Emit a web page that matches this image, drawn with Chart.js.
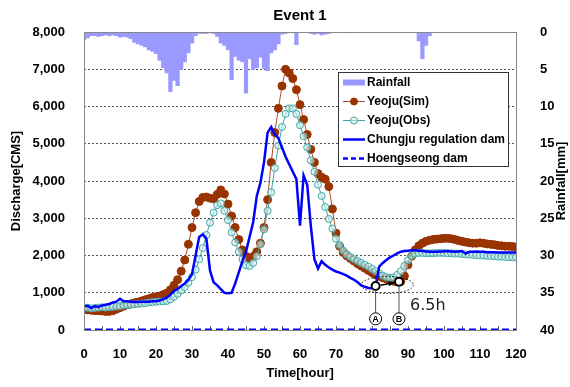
<!DOCTYPE html>
<html>
<head>
<meta charset="utf-8">
<script src="https://cdn.jsdelivr.net/npm/chart.js@4.4.1/dist/chart.umd.min.js"></script>
<style>
  html, body { margin: 0; padding: 0; background: #fff; }
  #chart { display: block; }
</style>
</head>
<body>
<canvas id="chart" width="570" height="387"></canvas>
<script>
// Event 1 - discharge at Yeoju and dam releases, with hourly rainfall

const hours = Array.from({ length: 121 }, (_, i) => i);

// rainfall [mm], hourly
const rainfall = [
  1.0, 0.8, 0.5, 0.5, 0.6, 0.5, 0.4, 0.5, 0.4, 0.5,
  0.7, 0.6, 0.7, 0.9, 1.4, 1.6, 1.8, 2.0, 2.4, 2.6,
  2.9, 3.8, 4.8, 5.5, 8.0, 6.5, 7.2, 5.0, 4.0, 2.8,
  1.5, 0.5, 0.2, 0.2, 0.2, 0.1, 0.2, 0.6, 1.5, 1.8,
  2.4, 6.4, 3.3, 3.8, 4.0, 8.2, 3.6, 5.0, 4.8, 3.4,
  4.9, 5.2, 2.8, 2.4, 1.6, 0.3, 0.2, 0.1, 0.1, 1.7,
  0, 0, 0, 0.2, 0.3, 0.2, 0.4, 0.3, 0.2, 0,
  0, 0.1, 0, 0.1, 0.1, 0, 0.1, 0, 0, 0,
  0, 0, 0, 0, 0, 0, 0, 0, 0, 0,
  0, 0, 0, 1.2, 3.6, 1.8, 0.5, 0, 0, 0,
  0, 0, 0, 0, 0, 0, 0, 0, 0, 0,
  0, 0, 0, 0, 0, 0, 0, 0, 0, 0,
  0
];

// Yeoju simulated discharge [CMS]
const yeojuSim = [
  560, 540, 530, 520, 520, 510, 500, 500, 520, 560,
  600, 640, 680, 700, 730, 750, 780, 810, 840, 870,
  890, 910, 950, 990, 1080, 1200, 1350, 1580, 1880, 2300,
  2750, 3150, 3450, 3560, 3570, 3540, 3520, 3640, 3760, 3650,
  3380, 3060, 2750, 2430, 2150, 1980, 1920, 1970, 2100, 2330,
  2750, 3500, 4500, 5300, 5950, 6550, 7000, 6900, 6750, 6450,
  6050, 5650, 5250, 4850, 4500, 4200, 4100, 4050, 3850, 3250,
  2600, 2250, 2080, 1990, 1920, 1850, 1780, 1720, 1660, 1600,
  1540, 1480, 1440, 1400, 1370, 1340, 1310, 1290, 1300, 1450,
  1750, 1980, 2150, 2260, 2330, 2380, 2410, 2430, 2440, 2450,
  2460, 2460, 2450, 2430, 2400, 2380, 2360, 2340, 2330, 2330,
  2340, 2330, 2310, 2300, 2290, 2270, 2260, 2250, 2250, 2240,
  2230
];

// Yeoju observed discharge [CMS]
const yeojuObs = [
  590, 600, 580, 590, 600, 610, 600, 610, 620, 630,
  640, 660, 670, 680, 690, 700, 710, 720, 740, 750,
  760, 765, 770, 780, 820, 890, 970, 1060, 1150, 1270,
  1420, 1620, 1900, 2200, 2550, 2880, 3150, 3350, 3400, 3200,
  2950, 2620, 2350, 2100, 1900, 1740, 1720, 1800, 1980, 2300,
  2700, 3200, 3700, 4350, 4950, 5450, 5800, 5950, 5950, 5800,
  5500, 5200, 4900, 4550, 4250, 3900, 3600, 3300, 2980, 2720,
  2450, 2280, 2130, 2030, 1960, 1900, 1850, 1800, 1750, 1700,
  1640, 1580, 1520, 1460, 1420, 1400, 1410, 1480, 1580, 1720,
  1870, 1990, 2050, 2070, 2070, 2060, 2060, 2060, 2070, 2070,
  2070, 2060, 2060, 2050, 2050, 2040, 2030, 2020, 2020, 2010,
  2000, 2000, 1990, 1990, 1980, 1970, 1970, 1960, 1960, 1950,
  1950
];

// Chungju regulation dam release [CMS]
const chungjuDam = [
  630, 650, 590, 640, 620, 660, 680, 700, 740, 760,
  840, 770, 770, 760, 750, 750, 760, 760, 760, 770,
  770, 790, 830, 870, 950, 1050, 1100, 1180, 1250, 1350,
  1500, 2000, 2500, 2570, 2450, 1600, 1280, 1200, 1100, 1000,
  990, 1000, 1250, 1550, 1850, 2100, 2500, 2900, 3600, 3950,
  4500, 5300, 5450, 5250, 5150, 4900, 4650, 4450, 4250, 4050,
  2800, 4150, 3900, 2800, 1900, 1650, 1850, 1750, 1680, 1620,
  1570, 1540, 1500, 1460, 1400, 1350, 1280, 1200, 1160, 1130,
  1120, 1180, 1700, 1800, 1880, 1950, 2000, 2060, 2100, 2120,
  2130, 2140, 2140, 2130, 2120, 2110, 2100, 2100, 2100, 2110,
  2110, 2120, 2110, 2100, 2110, 2120, 2050, 2100, 2100, 2110,
  2100, 2100, 2090, 2090, 2090, 2080, 2080, 2080, 2080, 2080,
  2080
];

// Hoengseong dam release [CMS]
const hoengTime = [0, 10, 20, 30, 40, 50, 60, 70, 80, 90, 100, 110, 120];
const hoengseongDam = [10, 10, 10, 10, 10, 10, 10, 10, 10, 10, 10, 10, 10];

// lag points (A: Chungju minimum, B: Yeoju minimum)
const lagTime = [81, 87.5];
const lagFlow = [1180, 1295];
const lagLetters = ['A', 'B'];
const lagText = '6.5h';

const FONT = "Arial, 'Liberation Sans', sans-serif";
Chart.defaults.font.family = FONT;
Chart.defaults.color = '#000';

const xy = (xs, ys) => xs.map((x, i) => ({ x: x, y: ys[i] }));

// легенда, подписи и аннотации рисуются вручную
const extras = {
  id: 'extras',
  beforeDatasetsDraw(chart) {
    const { ctx, chartArea: a, scales: { x } } = chart;
    ctx.save();
    ctx.strokeStyle = '#666';
    ctx.lineWidth = 1;
    for (let t = 5; t < 120; t += 5) {
      const px = Math.round(x.getPixelForValue(t)) + 0.5;
      ctx.beginPath();
      ctx.moveTo(px, a.bottom);
      ctx.lineTo(px, a.bottom - 4);
      ctx.stroke();
    }
    ctx.restore();
  },
  afterDatasetsDraw(chart) {
    const { ctx, scales: { x, y } } = chart;
    const pts = lagTime.map((t, i) => ({ x: x.getPixelForValue(t), y: y.getPixelForValue(lagFlow[i]) }));
    const labelY = y.getPixelForValue(300);
    ctx.save();

    // dotted ellipse
    ctx.strokeStyle = '#000';
    ctx.lineWidth = 1;
    ctx.setLineDash([1.5, 2]);
    ctx.beginPath();
    ctx.ellipse((pts[0].x + pts[1].x) / 2, (pts[0].y + pts[1].y) / 2 + 1, 26, 8.5, 0, 0, Math.PI * 2);
    ctx.stroke();
    ctx.setLineDash([]);

    // vertical leaders + circled letters
    ctx.strokeStyle = '#555';
    pts.forEach((p, i) => {
      ctx.beginPath();
      ctx.moveTo(p.x, p.y + 4);
      ctx.lineTo(p.x, labelY - 6);
      ctx.stroke();
      ctx.beginPath();
      ctx.arc(p.x, labelY, 6, 0, Math.PI * 2);
      ctx.fillStyle = '#fff';
      ctx.fill();
      ctx.strokeStyle = '#000';
      ctx.stroke();
      ctx.fillStyle = '#000';
      ctx.font = 'bold 9px ' + FONT;
      ctx.textAlign = 'center';
      ctx.textBaseline = 'middle';
      ctx.fillText(lagLetters[i], p.x, labelY + 0.5);
      ctx.strokeStyle = '#555';
    });

    // arrow A -> B
    const ang = Math.atan2(pts[1].y - pts[0].y, pts[1].x - pts[0].x);
    const sx = pts[0].x + 5 * Math.cos(ang), sy = pts[0].y + 5 * Math.sin(ang);
    const ex = pts[1].x - 5 * Math.cos(ang), ey = pts[1].y - 5 * Math.sin(ang);
    ctx.strokeStyle = '#000';
    ctx.lineWidth = 1.5;
    ctx.beginPath();
    ctx.moveTo(sx, sy);
    ctx.lineTo(ex, ey);
    ctx.stroke();
    ctx.beginPath();
    ctx.moveTo(ex, ey);
    ctx.lineTo(ex - 6 * Math.cos(ang - 0.45), ey - 6 * Math.sin(ang - 0.45));
    ctx.lineTo(ex - 6 * Math.cos(ang + 0.45), ey - 6 * Math.sin(ang + 0.45));
    ctx.closePath();
    ctx.fillStyle = '#000';
    ctx.fill();

    // lag text
    ctx.font = "16px 'DejaVu Sans', sans-serif";
    ctx.textAlign = 'left';
    ctx.textBaseline = 'middle';
    ctx.fillStyle = '#222';
    ctx.fillText(lagText, pts[1].x + 11, labelY - 13);
    ctx.restore();
  },
  afterDraw(chart) {
    const { ctx, chartArea: a } = chart;
    ctx.save();

    // plot frame
    ctx.strokeStyle = '#888';
    ctx.lineWidth = 1;
    ctx.strokeRect(Math.round(a.left) + 0.5, Math.round(a.top) + 0.5, Math.round(a.width), Math.round(a.height));

    // title
    ctx.fillStyle = '#000';
    ctx.font = 'bold 15px ' + FONT;
    ctx.textAlign = 'center';
    ctx.textBaseline = 'middle';
    ctx.fillText('Event 1', (a.left + a.right) / 2, 16);

    // right axis title (reads bottom to top)
    ctx.save();
    ctx.translate(561, (a.top + a.bottom) / 2);
    ctx.rotate(-Math.PI / 2);
    ctx.font = 'bold 13px ' + FONT;
    ctx.fillText('Rainfall[mm]', 0, 0);
    ctx.restore();

    // legend
    const lx = 338, ly = 72, lw = 170, lh = 94;
    ctx.fillStyle = '#fff';
    ctx.fillRect(lx, ly, lw, lh);
    ctx.strokeStyle = '#333';
    ctx.strokeRect(lx + 0.5, ly + 0.5, lw, lh);
    const rows = [82, 101, 120, 139, 158].map(v => v + 0.5);
    const ds = chart.data.datasets;
    ds.slice(0, 5).forEach((d, i) => {
      const ry = rows[i];
      ctx.save();
      if (i === 0) {
        ctx.fillStyle = d.backgroundColor;
        ctx.fillRect(343, ry - 3, 22, 6);
      } else {
        ctx.strokeStyle = d.borderColor;
        ctx.lineWidth = d.borderWidth;
        if (d.borderDash) ctx.setLineDash([5, 3]);
        ctx.beginPath();
        ctx.moveTo(343, ry);
        ctx.lineTo(365, ry);
        ctx.stroke();
        ctx.setLineDash([]);
        if (d.pointRadius) {
          ctx.beginPath();
          ctx.arc(354, ry, 3.5, 0, Math.PI * 2);
          ctx.fillStyle = d.pointBackgroundColor;
          ctx.fill();
          ctx.lineWidth = 1;
          ctx.strokeStyle = d.pointBorderColor;
          ctx.stroke();
        }
      }
      ctx.restore();
      ctx.fillStyle = '#000';
      ctx.font = 'bold 12px ' + FONT;
      ctx.textAlign = 'left';
      ctx.textBaseline = 'middle';
      ctx.fillText(d.label, 367, ry + 0.5);
    });
    ctx.restore();
  }
};

new Chart(document.getElementById('chart'), {
  type: 'line',
  data: {
    datasets: [
      {
        type: 'bar',
        label: 'Rainfall',
        data: xy(hours, rainfall),
        yAxisID: 'y2',
        backgroundColor: '#9999FF',
        borderWidth: 0,
        barPercentage: 1,
        categoryPercentage: 1,
        order: 6
      },
      {
        label: 'Yeoju(Sim)',
        data: xy(hours, yeojuSim),
        borderColor: '#A8502A',
        borderWidth: 1,
        pointRadius: 4,
        pointBackgroundColor: '#993300',
        pointBorderColor: '#993300',
        pointBorderWidth: 1,
        order: 5
      },
      {
        label: 'Yeoju(Obs)',
        data: xy(hours, yeojuObs),
        borderColor: '#3FA6A6',
        borderWidth: 1,
        pointRadius: 3.5,
        pointBackgroundColor: 'rgba(215,240,240,0.6)',
        pointBorderColor: '#3FA6A6',
        pointBorderWidth: 1,
        order: 4
      },
      {
        label: 'Chungju regulation dam',
        data: xy(hours, chungjuDam),
        borderColor: '#0000FF',
        borderWidth: 2.5,
        pointRadius: 0,
        order: 3
      },
      {
        label: 'Hoengseong dam',
        data: xy(hoengTime, hoengseongDam),
        borderColor: '#0000FF',
        borderWidth: 2.5,
        borderDash: [7, 4],
        pointRadius: 0,
        order: 2
      },
      {
        label: 'lag',
        data: xy(lagTime, lagFlow),
        showLine: false,
        pointRadius: 4,
        pointBackgroundColor: '#fff',
        pointBorderColor: '#000',
        pointBorderWidth: 2,
        order: 1
      }
    ]
  },
  options: {
    responsive: false,
    animation: false,
    devicePixelRatio: 1,
    layout: { padding: { top: 32, left: 0, right: 0, bottom: 0 } },
    plugins: {
      legend: { display: false },
      tooltip: { enabled: false }
    },
    scales: {
      x: {
        type: 'linear',
        min: 0,
        max: 120,
        offset: false,
        grid: { display: false, offset: false },
        border: { display: false },
        ticks: {
          stepSize: 10,
          autoSkip: false,
          maxRotation: 0,
          padding: 9,
          font: { size: 13, weight: 'bold' }
        },
        title: {
          display: true,
          text: 'Time[hour]',
          font: { size: 13, weight: 'bold' },
          padding: { top: 0, bottom: 6 }
        },
        afterFit: (s) => { s.height = 57; }
      },
      y: {
        position: 'left',
        min: 0,
        max: 8000,
        grid: { color: '#555', lineWidth: 1, drawTicks: false },
        border: { display: false, dash: [2, 2] },
        ticks: {
          stepSize: 1000,
          padding: 19,
          font: { size: 13, weight: 'bold' },
          callback: (v) => v.toLocaleString('en-US')
        },
        title: {
          display: true,
          text: 'Discharge[CMS]',
          font: { size: 13, weight: 'bold' },
          padding: { top: 9, bottom: 0 }
        },
        afterFit: (s) => { s.width = 84; }
      },
      y2: {
        position: 'right',
        min: 0,
        max: 40,
        reverse: true,
        grid: { display: false },
        border: { display: false },
        ticks: {
          stepSize: 5,
          padding: 16,
          font: { size: 13, weight: 'bold' }
        },
        afterFit: (s) => { s.width = 54; }
      }
    }
  },
  plugins: [extras]
});
</script>
</body>
</html>
